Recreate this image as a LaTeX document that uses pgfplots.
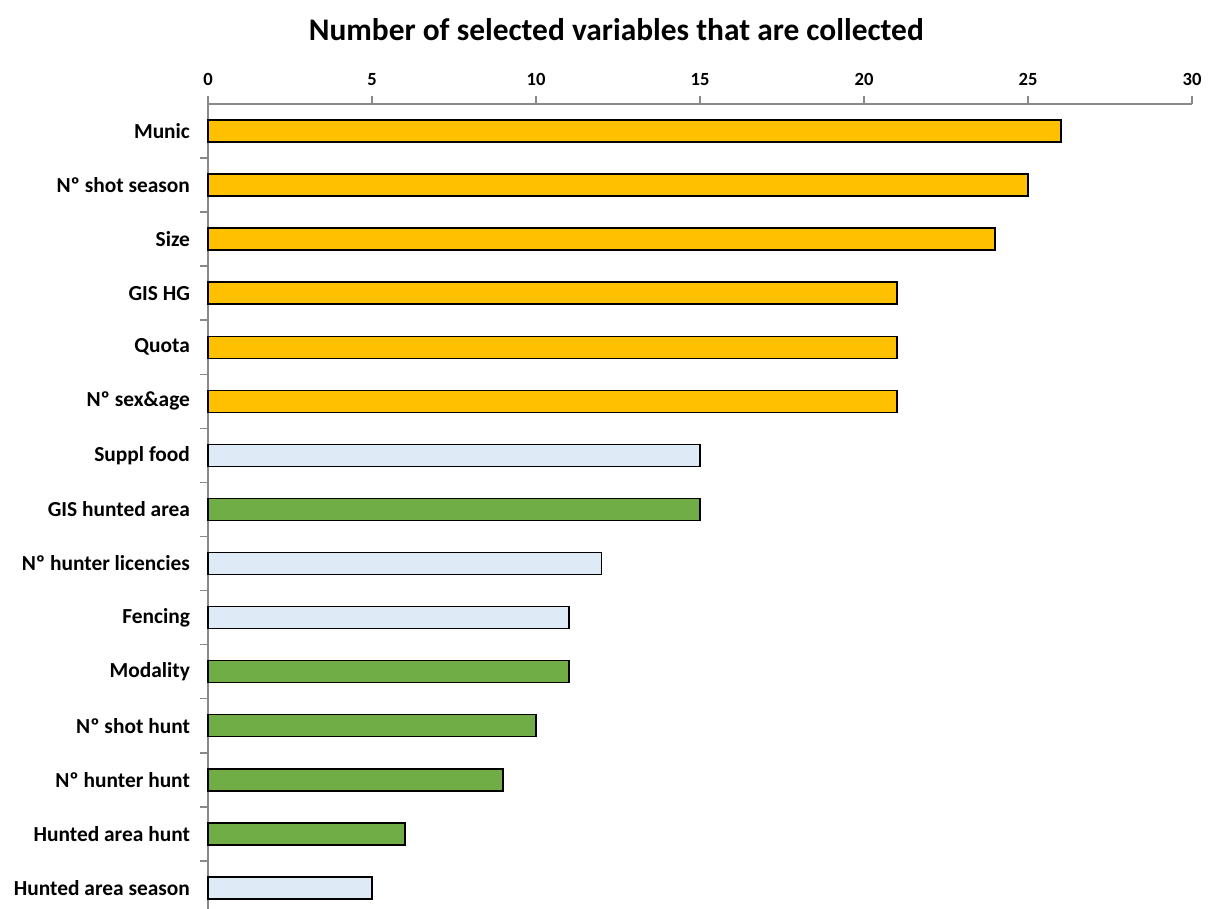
\documentclass[border=0pt]{standalone}
\usepackage{fontspec}
\setmainfont{Carlito}
\usepackage{pgfplots}
\pgfplotsset{compat=1.18}

\definecolor{barorange}{HTML}{FFC000}
\definecolor{barblue}{HTML}{DEEBF7}
\definecolor{bargreen}{HTML}{70AD47}
\definecolor{axisgray}{HTML}{898989}

\begin{document}
\begin{tikzpicture}
\begin{axis}[
  scale only axis,
  width=492pt, height=402.5pt,
  xbar, bar width=11pt,
  xmin=0, xmax=30,
  ymin=-0.39, ymax=14.5,
  axis x line=top, axis y line=left,
  axis line style={-, axisgray, line width=0.8pt},
  tick style={axisgray, line width=0.8pt},
  tick align=outside,
  major tick length=4pt,
  xtick={0,5,...,30},
  xticklabel style={font=\bfseries\fontsize{9.3}{11}\selectfont, yshift=1.5pt},
  ytick={0.5,1.5,...,13.5},
  yticklabels={},
  extra y ticks={0,1,...,14},
  extra y tick labels={Hunted area season, Hunted area hunt, Nº hunter hunt, Nº shot hunt, Modality, Fencing, Nº hunter licencies, GIS hunted area, Suppl food, Nº sex\&age, Quota, GIS HG, Size, Nº shot season, Munic},
  extra y tick style={major tick length=0pt, yticklabel style={xshift=-5.5pt, font=\bfseries\fontsize{10.7}{12}\selectfont}},
  /pgf/number format/assume math mode=true,
  clip=false,
]
% variables recorded per hunting ground (orange)
\addplot[bar shift=0pt, fill=barorange, draw=black, line width=0.75pt] coordinates {
  (21,9) (21,10) (21,11) (24,12) (25,13) (26,14)};
% variables on management measures (light blue)
\addplot[bar shift=0pt, fill=barblue, draw=black, line width=0.75pt] coordinates {
  (5,0) (11,5) (12,6) (15,8)};
% variables recorded per hunt (green)
\addplot[bar shift=0pt, fill=bargreen, draw=black, line width=0.75pt] coordinates {
  (6,1) (9,2) (10,3) (11,4) (15,7)};
\node[font=\bfseries\fontsize{15.7}{18}\selectfont] at ([yshift=37pt]rel axis cs:0.415,1) {Number of selected variables that are collected};
\end{axis}
\pgfresetboundingbox
\useasboundingbox (-104pt,0pt) rectangle (506pt,454.5pt);
\end{tikzpicture}
\end{document}
